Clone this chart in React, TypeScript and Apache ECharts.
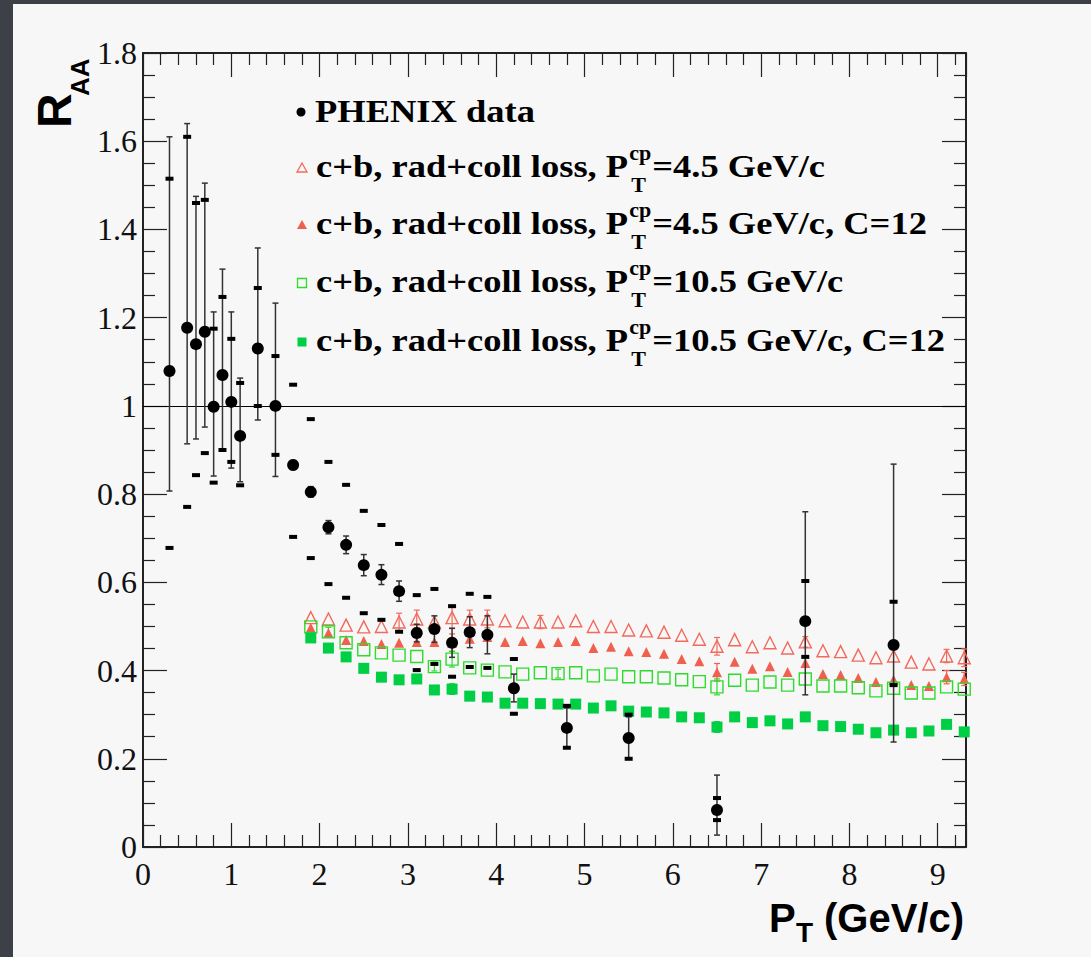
import React, { useEffect, useRef } from 'react';
import * as echarts from 'echarts';

// ---------- PHENIX data ----------
const phenixPt = [0.3, 0.5, 0.6, 0.7, 0.8, 0.9, 1.0, 1.1, 1.3, 1.5, 1.7, 1.9, 2.1, 2.3, 2.5, 2.7, 2.9, 3.1, 3.3, 3.5, 3.7, 3.9, 4.2, 4.8, 5.5, 6.5, 7.5, 8.5];
const phenixRaa = [1.079, 1.177, 1.14, 1.168, 0.998, 1.07, 1.009, 0.932, 1.13, 1.0, 0.866, 0.805, 0.725, 0.685, 0.639, 0.617, 0.58, 0.485, 0.494, 0.463, 0.487, 0.481, 0.36, 0.27, 0.247, 0.084, 0.512, 0.458];
const statLo = [0.807, 0.914, 0.925, 0.952, 0.841, 0.902, 0.859, 0.828, 0.968, 0.84, 0.856, 0.793, 0.71, 0.665, 0.615, 0.595, 0.557, 0.465, 0.464, 0.43, 0.452, 0.438, 0.329, 0.225, 0.2, 0.027, 0.345, 0.238];
const statHi = [1.61, 1.64, 1.475, 1.505, 1.213, 1.31, 1.213, 1.063, 1.358, 1.233, 0.876, 0.817, 0.74, 0.705, 0.663, 0.64, 0.603, 0.505, 0.524, 0.496, 0.522, 0.524, 0.392, 0.315, 0.295, 0.163, 0.76, 0.868];
const sysLo = [0.678, 0.771, 0.843, 0.893, 0.826, 0.9, 0.873, 0.82, 1.0, 0.889, 0.703, 0.655, 0.596, 0.565, 0.53, 0.515, 0.488, 0.401, 0.415, 0.386, 0.408, 0.406, 0.302, 0.225, 0.2, 0.061, 0.431, 0.367];
const sysHi = [1.515, 1.61, 1.46, 1.467, 1.175, 1.247, 1.152, 1.052, 1.267, 1.113, 1.048, 0.97, 0.873, 0.821, 0.762, 0.73, 0.687, 0.571, 0.585, 0.546, 0.574, 0.567, 0.426, 0.32, 0.3, 0.111, 0.603, 0.556];

// ---------- model curves ----------
const modelPt = [1.9, 2.1, 2.3, 2.5, 2.7, 2.9, 3.1, 3.3, 3.5, 3.7, 3.9, 4.1, 4.3, 4.5, 4.7, 4.9, 5.1, 5.3, 5.5, 5.7, 5.9, 6.1, 6.3, 6.5, 6.7, 6.9, 7.1, 7.3, 7.5, 7.7, 7.9, 8.1, 8.3, 8.5, 8.7, 8.9, 9.1, 9.3];
const cb45 = [0.52, 0.517, 0.503, 0.499, 0.5, 0.51, 0.517, 0.51, 0.52, 0.517, 0.517, 0.513, 0.51, 0.51, 0.51, 0.513, 0.5, 0.5, 0.492, 0.49, 0.487, 0.48, 0.471, 0.455, 0.47, 0.454, 0.463, 0.451, 0.465, 0.445, 0.443, 0.435, 0.429, 0.433, 0.419, 0.415, 0.433, 0.429];
const cb45C12 = [0.497, 0.485, 0.469, 0.467, 0.46, 0.463, 0.465, 0.465, 0.463, 0.472, 0.476, 0.465, 0.467, 0.462, 0.465, 0.467, 0.451, 0.454, 0.444, 0.442, 0.438, 0.426, 0.421, 0.396, 0.42, 0.404, 0.41, 0.397, 0.417, 0.392, 0.39, 0.383, 0.374, 0.379, 0.367, 0.365, 0.385, 0.381];
const cb105 = [0.499, 0.488, 0.463, 0.447, 0.44, 0.435, 0.432, 0.409, 0.426, 0.406, 0.401, 0.397, 0.392, 0.395, 0.393, 0.395, 0.388, 0.392, 0.386, 0.386, 0.383, 0.379, 0.375, 0.363, 0.378, 0.367, 0.374, 0.367, 0.381, 0.365, 0.365, 0.361, 0.354, 0.36, 0.349, 0.349, 0.363, 0.358];
const cb105C12 = [0.474, 0.451, 0.431, 0.405, 0.385, 0.379, 0.381, 0.356, 0.358, 0.342, 0.34, 0.326, 0.326, 0.325, 0.324, 0.324, 0.315, 0.32, 0.308, 0.306, 0.304, 0.295, 0.293, 0.272, 0.295, 0.282, 0.286, 0.279, 0.295, 0.275, 0.273, 0.267, 0.259, 0.265, 0.259, 0.263, 0.278, 0.261];
const cb45Err = [0, 0, 0, 0, 0, 0.02, 0.02, 0, 0.025, 0.02, 0.02, 0, 0, 0.015, 0, 0, 0, 0, 0, 0, 0, 0, 0, 0.02, 0, 0, 0, 0, 0.012, 0, 0, 0, 0, 0, 0, 0, 0.015, 0.02];
const cb45C12Err = [0, 0, 0, 0, 0, 0, 0, 0, 0.02, 0, 0, 0, 0, 0, 0, 0, 0, 0, 0, 0, 0, 0, 0, 0.02, 0, 0, 0, 0, 0, 0, 0, 0, 0, 0, 0, 0, 0.015, 0.015];
const cb105Err = [0, 0.01, 0, 0, 0, 0, 0, 0.01, 0.018, 0, 0, 0, 0, 0, 0.01, 0, 0, 0, 0, 0, 0, 0, 0, 0.018, 0, 0, 0, 0, 0, 0, 0, 0, 0, 0, 0, 0, 0, 0];
const cb105C12Err = [0, 0, 0, 0, 0, 0, 0, 0, 0.012, 0, 0, 0, 0, 0, 0, 0, 0, 0, 0, 0, 0, 0, 0, 0.012, 0, 0, 0, 0, 0, 0, 0, 0, 0, 0, 0, 0, 0, 0];

const xTicks = [0, 1, 2, 3, 4, 5, 6, 7, 8, 9];
const yTicks = [0, 0.2, 0.4, 0.6, 0.8, 1, 1.2, 1.4, 1.6, 1.8];

const RED_OPEN = '#f26a5c';
const RED_FILL = '#f0604f';
const GREEN_OPEN = '#2edc2e';
const GREEN_FILL = '#00cf45';

const legendRows = [
  { head: 'PHENIX data', sup: '', sub: '', tail: '' },
  { head: 'c+b, rad+coll loss, P', sup: 'cp', sub: 'T', tail: '=4.5 GeV/c' },
  { head: 'c+b, rad+coll loss, P', sup: 'cp', sub: 'T', tail: '=4.5 GeV/c, C=12' },
  { head: 'c+b, rad+coll loss, P', sup: 'cp', sub: 'T', tail: '=10.5 GeV/c' },
  { head: 'c+b, rad+coll loss, P', sup: 'cp', sub: 'T', tail: '=10.5 GeV/c, C=12' },
];

function errBars(xs: number[], lo: number[], hi: number[], color: string, cap: number, lw: number, z: number) {
  const data = xs.map((x, i) => [x, lo[i], hi[i]]).filter((d) => d[2] - d[1] > 0);
  return {
    type: 'custom',
    z,
    silent: true,
    data,
    encode: { x: 0, y: [1, 2] },
    renderItem: (_p: any, api: any) => {
      const x = api.value(0), l = api.value(1), h = api.value(2);
      const a = api.coord([x, l]);
      const b = api.coord([x, h]);
      const st = { stroke: color, lineWidth: lw };
      return {
        type: 'group',
        children: [
          { type: 'line', shape: { x1: a[0], y1: a[1], x2: b[0], y2: b[1] }, style: st },
          { type: 'line', shape: { x1: a[0] - cap, y1: a[1], x2: a[0] + cap, y2: a[1] }, style: st },
          { type: 'line', shape: { x1: b[0] - cap, y1: b[1], x2: b[0] + cap, y2: b[1] }, style: st },
        ],
      };
    },
  };
}

function sysMarks(xs: number[], lo: number[], hi: number[]) {
  return {
    type: 'custom',
    z: 6,
    silent: true,
    data: xs.map((x, i) => [x, lo[i], hi[i]]),
    encode: { x: 0, y: [1, 2] },
    renderItem: (_p: any, api: any) => {
      const x = api.value(0);
      const a = api.coord([x, api.value(1)]);
      const b = api.coord([x, api.value(2)]);
      return {
        type: 'group',
        children: [a, b].map((p) => ({
          type: 'rect',
          shape: { x: p[0] - 4, y: p[1] - 2, width: 8, height: 4 },
          style: { fill: '#000' },
        })),
      };
    },
  };
}

function measure(text: string, font: string) {
  const ctx = document.createElement('canvas').getContext('2d') as CanvasRenderingContext2D;
  ctx.font = font;
  return ctx.measureText(text).width;
}

function buildGraphics() {
  const els: any[] = [];
  const F = 36.5, SY = 0.87, SF = 22;
  const serifB = (s: number) => `bold ${s}px "Liberation Serif"`;
  const baselines = [122, 177, 234, 292, 351];
  const x0 = 316;
  const txt = (text: string, x: number, baseline: number, size: number, sy: number) => ({
    type: 'text',
    x,
    y: baseline - 0.3375 * size * sy,
    scaleY: sy,
    z: 100,
    silent: true,
    style: { text, font: serifB(size), fill: '#000', align: 'left', verticalAlign: 'middle' },
  });
  legendRows.forEach((r, i) => {
    const b = baselines[i];
    els.push(txt(r.head, x0 - (i === 0 ? 1 : 0), b, F, SY));
    if (r.sup) {
      const w = measure(r.head, serifB(F));
      const sx = x0 + w + 1;
      els.push(txt(r.sup, sx, b - 17, SF, 1));
      els.push(txt(r.sub, sx + 2, b + 15, SF, 1));
      const ws = measure(r.sup, serifB(SF));
      els.push(txt(r.tail, sx + ws + 1, b, F, SY));
    }
  });
  const mx = 302;
  const my = baselines.map((b) => b - 9);
  els.push({ type: 'circle', z: 100, shape: { cx: mx - 1, cy: my[0] - 1, r: 4.5 }, style: { fill: '#000' } });
  els.push({ type: 'polygon', z: 100, shape: { points: [[mx, my[1] - 5], [mx - 5, my[1] + 4], [mx + 5, my[1] + 4]] }, style: { fill: 'none', stroke: RED_OPEN, lineWidth: 1.3 } });
  els.push({ type: 'polygon', z: 100, shape: { points: [[mx, my[2] - 5], [mx - 5, my[2] + 4], [mx + 5, my[2] + 4]] }, style: { fill: RED_FILL } });
  els.push({ type: 'rect', z: 100, shape: { x: mx - 4.5, y: my[3] - 4.5, width: 9, height: 9 }, style: { fill: 'none', stroke: GREEN_OPEN, lineWidth: 1.3 } });
  els.push({ type: 'rect', z: 100, shape: { x: mx - 4.5, y: my[4] - 4.5, width: 9, height: 9 }, style: { fill: GREEN_FILL } });

  // Y axis title R_AA (rotated)
  els.push({ type: 'text', x: 54, y: 128, rotation: Math.PI / 2, z: 100, silent: true,
    style: { text: 'R', font: 'bold 48px "Liberation Sans"', fill: '#000', align: 'left', verticalAlign: 'middle' } });
  els.push({ type: 'text', x: 80, y: 96, rotation: Math.PI / 2, z: 100, silent: true,
    style: { text: 'AA', font: 'bold 26px "Liberation Sans"', fill: '#000', align: 'left', verticalAlign: 'middle' } });
  // X axis title P_T (GeV/c)
  els.push({ type: 'text', x: 769, y: 932 - 0.3465 * 40, z: 100, silent: true,
    style: { text: 'P', font: 'bold 40px "Liberation Sans"', fill: '#000', align: 'left', verticalAlign: 'middle' } });
  els.push({ type: 'text', x: 796, y: 942 - 0.3465 * 28, z: 100, silent: true,
    style: { text: 'T', font: 'bold 28px "Liberation Sans"', fill: '#000', align: 'left', verticalAlign: 'middle' } });
  els.push({ type: 'text', x: 964, y: 932 - 0.3465 * 40, z: 100, silent: true,
    style: { text: '(GeV/c)', font: 'bold 40px "Liberation Sans"', fill: '#000', align: 'right', verticalAlign: 'middle' } });
  return els;
}

const AX = '#222';

function axisCommon(showLabel: boolean, isX: boolean) {
  return {
    min: 0,
    max: isX ? 9.32 : 1.8,
    interval: isX ? 1 : 0.2,
    axisLine: { show: true, onZero: false, lineStyle: { color: AX, width: 2 } },
    axisTick: { show: true, inside: true, length: 24, lineStyle: { color: AX, width: 1.2 } },
    minorTick: { show: true, splitNumber: isX ? 5 : 4, length: 12, lineStyle: { color: AX, width: 1.2 } },
    splitLine: { show: false },
    minorSplitLine: { show: false },
    axisLabel: showLabel
      ? {
          show: true,
          fontFamily: 'Liberation Serif',
          fontSize: 32,
          color: '#111',
          margin: isX ? 11 : 6,
          padding: isX ? 0 : [10, 0, 0, 0],
          showMaxLabel: true,
          formatter: (v: number) => {
            const list = isX ? xTicks : yTicks;
            const hit = list.find((t) => Math.abs(t - v) < 1e-6);
            return hit === undefined ? '' : String(hit);
          },
        }
      : { show: false },
  };
}

export default function App() {
  const ref = useRef<HTMLDivElement>(null);
  useEffect(() => {
    if (!ref.current) return;
    const chart = echarts.init(ref.current, undefined, { renderer: 'svg' });
    const option: any = {
      animation: false,
      backgroundColor: 'transparent',
      grid: { left: 143, top: 53, width: 823, height: 794, containLabel: false, outerBoundsMode: 'none' },
      xAxis: [
        { type: 'value', position: 'bottom', ...axisCommon(true, true) },
        { type: 'value', position: 'top', ...axisCommon(false, true) },
      ],
      yAxis: [
        { type: 'value', position: 'left', ...axisCommon(true, false) },
        { type: 'value', position: 'right', ...axisCommon(false, false) },
      ],
      graphic: { elements: buildGraphics() },
      series: [
        errBars(phenixPt, statLo, statHi, '#333', 3, 1.5, 5),
        sysMarks(phenixPt, sysLo, sysHi),
        errBars(modelPt, cb45.map((v, i) => v - cb45Err[i]), cb45.map((v, i) => v + cb45Err[i]), RED_OPEN, 3, 1.2, 3),
        errBars(modelPt, cb45C12.map((v, i) => v - cb45C12Err[i]), cb45C12.map((v, i) => v + cb45C12Err[i]), RED_FILL, 3, 1.2, 3),
        errBars(modelPt, cb105.map((v, i) => v - cb105Err[i]), cb105.map((v, i) => v + cb105Err[i]), GREEN_OPEN, 3, 1.2, 3),
        errBars(modelPt, cb105C12.map((v, i) => v - cb105C12Err[i]), cb105C12.map((v, i) => v + cb105C12Err[i]), GREEN_FILL, 3, 1.2, 3),
        {
          type: 'scatter', name: 'c+b 4.5', z: 4, symbol: 'triangle', symbolSize: 12,
          itemStyle: { color: 'rgba(0,0,0,0)', borderColor: RED_OPEN, borderWidth: 1.4, opacity: 1 },
          data: modelPt.map((x, i) => [x, cb45[i]]),
        },
        {
          type: 'scatter', name: 'c+b 4.5 C12', z: 4, symbol: 'triangle', symbolSize: 10,
          itemStyle: { color: RED_FILL, opacity: 1 },
          data: modelPt.map((x, i) => [x, cb45C12[i]]),
        },
        {
          type: 'scatter', name: 'c+b 10.5', z: 4, symbol: 'rect', symbolSize: 12,
          itemStyle: { color: 'rgba(0,0,0,0)', borderColor: GREEN_OPEN, borderWidth: 1.4, opacity: 1 },
          data: modelPt.map((x, i) => [x, cb105[i]]),
        },
        {
          type: 'scatter', name: 'c+b 10.5 C12', z: 4, symbol: 'rect', symbolSize: 11,
          itemStyle: { color: GREEN_FILL, opacity: 1 },
          data: modelPt.map((x, i) => [x, cb105C12[i]]),
        },
        {
          type: 'scatter', name: 'PHENIX data', z: 8, symbol: 'circle', symbolSize: 12,
          itemStyle: { color: '#000', opacity: 1 },
          data: phenixPt.map((x, i) => [x, phenixRaa[i]]),
          markLine: {
            silent: true, symbol: ['none', 'none'], label: { show: false },
            lineStyle: { color: '#000', width: 1, type: 'solid' },
            data: [{ yAxis: 1 }],
          },
        },
      ],
    };
    chart.setOption(option);
    return () => chart.dispose();
  }, []);
  return (
    <div style={{ position: 'absolute', left: 0, top: 0, width: 1091, height: 957, background: '#3d4047', overflow: 'hidden' }}>
      <div style={{ position: 'absolute', left: 13, top: 4, width: 1078, height: 953, background: '#f7f7f7' }} />
      <div ref={ref} style={{ position: 'absolute', left: 0, top: 0, width: 1091, height: 957 }} />
    </div>
  );
}
